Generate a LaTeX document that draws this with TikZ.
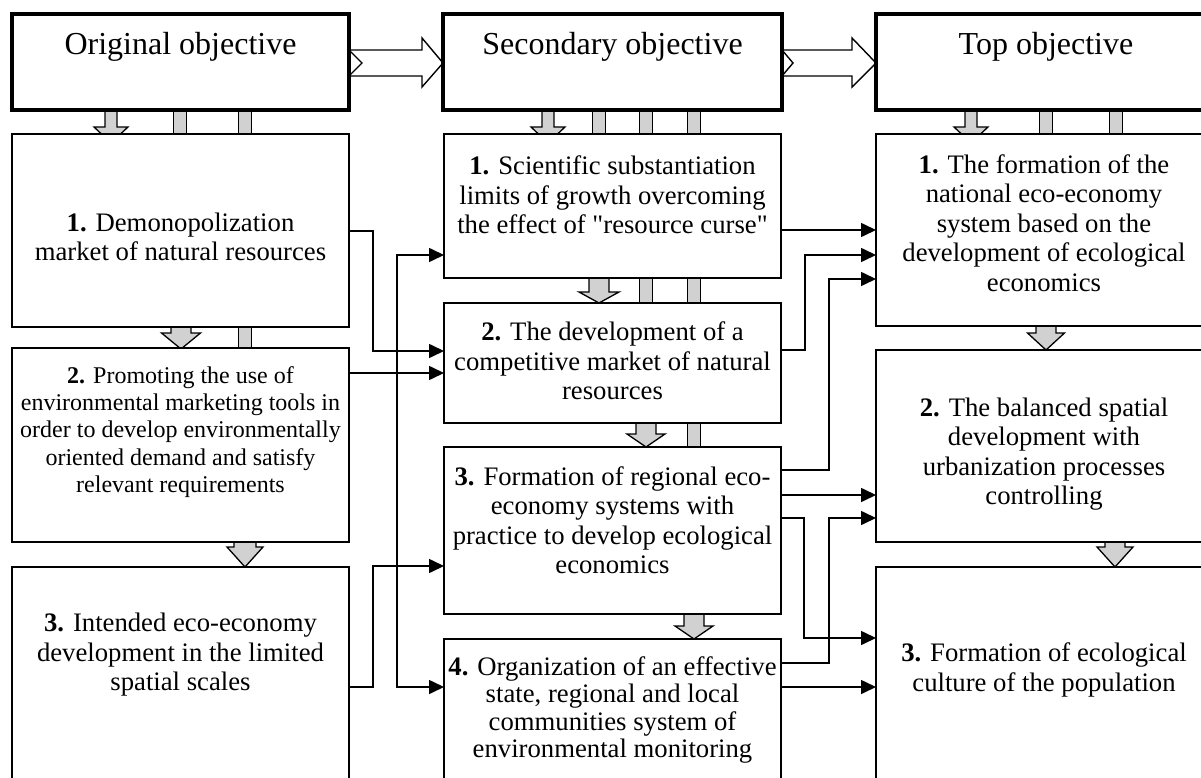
\documentclass[tikz,border=0pt]{standalone}
\usepackage{fontspec}
\setmainfont{Liberation Serif}
\usetikzlibrary{arrows.meta}

% vertical channel arrow: x, y of top, y of tip, half shaft, half head, head length
\newcommand\chanarrow[6]{%
  \filldraw[chan] (#1-#4,#2) -- (#1-#4,#3-#6) -- (#1-#5,#3-#6) -- (#1,#3)
    -- (#1+#5,#3-#6) -- (#1+#4,#3-#6) -- (#1+#4,#2) -- cycle;}
% vertical channel bar: x, y of top, y of bottom
\newcommand\chanbar[3]{\filldraw[chan] (#1-6.5,#2-2) rectangle (#1+6.5,#3+2);}

\begin{document}
\begin{tikzpicture}[x=1pt,y=-1pt,
  box/.style={draw, fill=white, line width=1.8pt, rectangle, inner sep=0pt, outer sep=0pt, anchor=north west},
  headbox/.style={box, line width=3.3pt},
  chan/.style={fill=black!18, draw=black, line width=1.3pt, line join=miter},
  txt/.style={align=center, inner sep=0pt, font=\fontsize{26.7}{29.5}\selectfont},
  headtxt/.style={inner sep=0pt, font=\fontsize{32}{36}\selectfont},
  conn/.style={line width=1.6pt, -{Triangle[length=15pt,width=14pt]}},
  bus/.style={line width=1.6pt, {Triangle[length=15pt,width=14pt]}-{Triangle[length=15pt,width=14pt]}},
  bigarrow/.style={draw, fill=white, line width=1.4pt, line join=miter}]

\useasboundingbox (0,0) rectangle (1201,778);
\clip (0,0) rectangle (1201,778);
\fill[white] (0,0) rectangle (1201,778);

% hollow arrows between the objective headers
\path[bigarrow] (349,50) -- (422,50) -- (422,38) -- (443,63) -- (422,87) -- (422,76) -- (349,76) -- (362,63) -- cycle;
\path[bigarrow] (782,50) -- (852,50) -- (852,38) -- (876,63) -- (852,87) -- (852,76) -- (782,76) -- (793,63) -- cycle;

% channels below the headers
\chanarrow{111}{108}{143}{6}{17}{16}
\chanbar{180}{110}{134}
\chanbar{245}{110}{134}
\chanarrow{548}{108}{143}{6}{17}{16}
\chanbar{599}{110}{134}
\chanbar{646}{110}{134}
\chanbar{694}{110}{134}
\chanarrow{971}{108}{143}{6}{17}{16}
\chanbar{1046}{110}{134}
\chanbar{1116}{110}{134}

% channels between the boxes
\chanarrow{181}{325}{349}{10}{19.5}{16}
\chanbar{245}{327}{348}
\chanarrow{245}{540}{567}{11}{18}{20}
\chanarrow{599}{276}{303}{10}{20}{11}
\chanbar{646}{278}{303}
\chanbar{694}{278}{303}
\chanarrow{646}{421}{447}{10}{19}{13}
\chanbar{694}{423}{447}
\chanarrow{694}{612}{639}{10}{19}{13}
\chanarrow{1046}{324}{350}{10}{18.5}{17}
\chanarrow{1115}{540}{567}{10}{18}{20}

% headers
\node[headbox, minimum width=337pt, minimum height=96pt] (H1) at (12,14) {};
\node[headbox, minimum width=339pt, minimum height=96pt] (H2) at (443,14) {};
\node[headbox, minimum width=340pt, minimum height=96pt] (H3) at (876,14) {};
\node[headtxt] (H1t) at (180.5,47) {Original objective};
\node[headtxt] (H2t) at (612.5,47) {Secondary objective};
\node[headtxt] (H3t) at (1046,47) {Top objective};

% left column
\node[box, minimum width=337pt, minimum height=193pt] (L1) at (12,134) {};
\node[box, minimum width=337pt, minimum height=194pt] (L2) at (12,348) {};
\node[box, minimum width=337pt, minimum height=240pt] (L3) at (12,567) {};
% middle column
\node[box, minimum width=337pt, minimum height=144pt] (M1) at (444,134) {};
\node[box, minimum width=337pt, minimum height=120pt] (M2) at (444,303) {};
\node[box, minimum width=337pt, minimum height=167pt] (M3) at (444,447) {};
\node[box, minimum width=337pt, minimum height=170pt] (M4) at (444,639) {};
% right column
\node[box, minimum width=340pt, minimum height=192pt] (R1) at (876,134) {};
\node[box, minimum width=340pt, minimum height=192pt] (R2) at (876,350) {};
\node[box, minimum width=340pt, minimum height=240pt] (R3) at (876,567) {};

\node[txt] (L1t) at (180.5,237) {\textbf{1.} Demonopolization\\market of natural resources};
\node[txt, font=\fontsize{24}{27.2}\selectfont] (L2t) at (180.5,432) {\textbf{2.} Promoting the use of\\environmental marketing tools in\\order to develop environmentally\\oriented demand and satisfy\\relevant requirements};
\node[txt] (L3t) at (180.5,655) {\textbf{3.} Intended eco-economy\\development in the limited\\spatial scales};

\node[txt] (M1t) at (612.5,195) {\textbf{1.} Scientific substantiation\\limits of growth overcoming\\the effect of \textquotedbl resource curse\textquotedbl};
\node[txt] (M2t) at (612.5,361) {\textbf{2.} The development of a\\competitive market of natural\\resources};
\node[txt] (M3t) at (612.5,520) {\textbf{3.} Formation of regional eco-\\economy systems with\\practice to develop ecological\\economics};
\node[txt, font=\fontsize{26.7}{27.2}\selectfont] (M4t) at (612.5,710) {\textbf{4.} Organization of an effective\\state, regional and local\\communities system of\\environmental monitoring};

\node[txt] (R1t) at (1044,223) {\textbf{1.} The formation of the\\national eco-economy\\system based on the\\development of ecological\\economics};
\node[txt] (R2t) at (1044,454) {\textbf{2.} The balanced spatial\\development with\\urbanization processes\\controlling};
\node[txt] (R3t) at (1044,670) {\textbf{3.} Formation of ecological\\culture of the population};

% links from the left column to the middle column
\draw[conn] (L1.east |- 0,231) -- ++(24,0) |- (M2.west |- 0,351);
\draw[conn] (L2.east |- 0,373) -- (M2.west |- 0,373);
\draw[bus] (M1.west |- 0,255) -| (397,471) |- (M4.west |- 0,687);
\draw[conn] (L3.east |- 0,687) -- ++(24,0) |- (M3.west |- 0,566);

% links from the middle column to the right column
\draw[conn] (M1.east |- 0,230) -- (R1.west |- 0,230);
\draw[conn] (M2.east |- 0,350) -- ++(24,0) |- (R1.west |- 0,255);
\draw[conn] (M3.east |- 0,470) -- ++(48,0) |- (R1.west |- 0,279);
\draw[conn] (M3.east |- 0,495) -- (R2.west |- 0,495);
\draw[conn] (M3.east |- 0,518) -- ++(23,0) |- (R3.west |- 0,638);
\draw[conn] (M4.east |- 0,663) -- ++(48,0) |- (R2.west |- 0,518);
\draw[conn] (M4.east |- 0,687) -- (R3.west |- 0,687);
\end{tikzpicture}
\end{document}
